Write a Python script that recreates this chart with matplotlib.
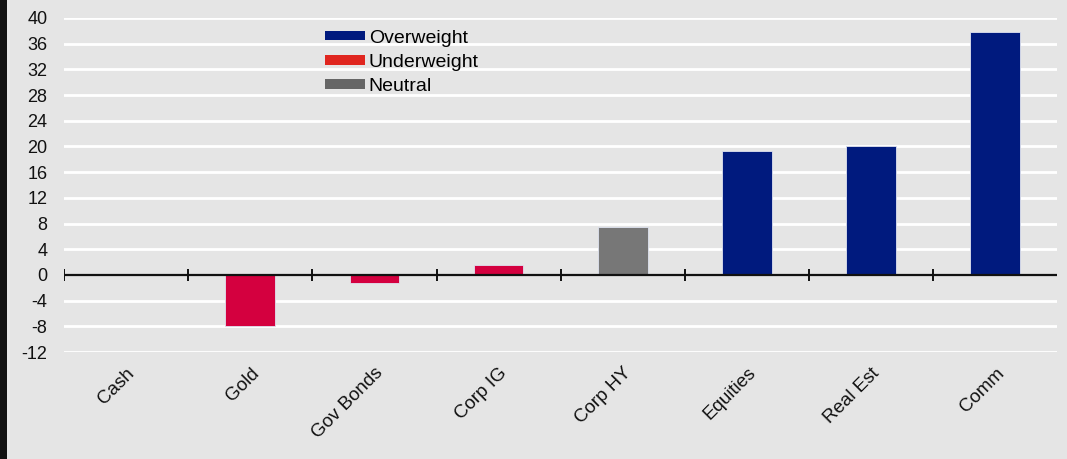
import matplotlib
matplotlib.use("Agg")
import matplotlib.pyplot as plt
import numpy as np
from matplotlib.patches import Patch, Rectangle

plt.rcParams['font.family'] = ['Liberation Sans', 'DejaVu Sans']

categories = ["Cash", "Gold", "Gov Bonds", "Corp IG", "Corp HY", "Equities", "Real Est", "Comm"]
values = [0.0, -8.0, -1.2, 1.5, 7.5, 19.3, 20.0, 37.8]
stance = ["Neutral", "Underweight", "Underweight", "Underweight", "Neutral",
          "Overweight", "Overweight", "Overweight"]
yticks = list(range(-12, 41, 4))

bar_colors = {"Overweight": "#001a7e", "Underweight": "#d4003f", "Neutral": "#777777"}
legend_colors = {"Overweight": "#001a7e", "Underweight": "#e0261f", "Neutral": "#666666"}
bg = "#e5e5e5"

fig = plt.figure(figsize=(10.67, 4.59), dpi=100, facecolor=bg)
ax = fig.add_axes([0.060, 0.233, 0.931, 0.728], facecolor=bg)

x = np.arange(len(categories))
ax.bar(x, values, width=0.4, color=[bar_colors[s] for s in stance],
       edgecolor="#dfe3f0", linewidth=0.6, zorder=3)

ax.set_xlim(-0.5, len(categories) - 0.5)
ax.set_ylim(yticks[0], yticks[-1])
ax.set_yticks(yticks)
ax.set_yticklabels([str(t) for t in yticks], fontsize=13, color="#111111")
for t in yticks:
    if t != 0:
        ax.axhline(t, color="white", linewidth=2.0, zorder=1)

# zero line with category separators
ax.axhline(0, color="#111111", linewidth=1.6, zorder=4)
bounds = np.arange(len(categories)) - 0.5
ax.vlines(bounds, -0.9, 0.9, color="#111111", linewidth=1.4, zorder=4)

ax.set_xticks(x)
ax.set_xticklabels(categories, rotation=45, ha="right", rotation_mode="anchor",
                   fontsize=13.5, color="#111111")
ax.tick_params(axis="x", length=0, pad=9)
ax.tick_params(axis="y", length=0, pad=12)
for s in ax.spines.values():
    s.set_visible(False)

handles = [Patch(facecolor=legend_colors[k], edgecolor="none") for k in ["Overweight", "Underweight", "Neutral"]]
leg = ax.legend(handles, ["Overweight", "Underweight", "Neutral"], loc="upper left",
                bbox_to_anchor=(0.255, 0.988), frameon=False, fontsize=14,
                handlelength=2.05, handleheight=0.36, handletextpad=0.2, labelspacing=0.37,
                borderaxespad=0.0)

# dark frame edge on the left
fig.patches.append(Rectangle((0, 0), 0.0065, 1, transform=fig.transFigure,
                             facecolor="#111111", edgecolor="none"))

fig.savefig("out.png", dpi=100, facecolor=bg)
